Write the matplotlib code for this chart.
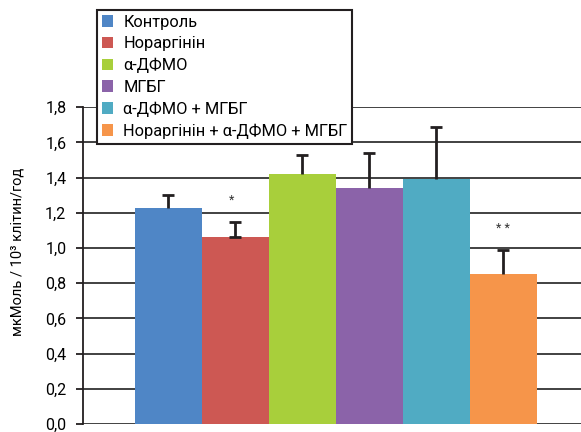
import matplotlib
matplotlib.use("Agg")
import matplotlib.pyplot as plt
from matplotlib.patches import Patch
from matplotlib import font_manager

names = {f.name for f in font_manager.fontManager.ttflist}
main_font = 'Liberation Sans Narrow' if 'Liberation Sans Narrow' in names else 'Roboto'
plt.rcParams['font.family'] = [main_font, 'DejaVu Sans']

categories = ['Контроль', 'Нораргінін', 'α-ДФМО', 'МГБГ', 'α-ДФМО + МГБГ',
              'Нораргінін + α-ДФМО + МГБГ']
values = [1.23, 1.06, 1.42, 1.34, 1.39, 0.85]
errors = [0.07, 0.09, 0.11, 0.20, 0.30, 0.14]
colors = ['#4f86c6', '#cd5853', '#a8cf3b', '#8b63a9', '#50abc3', '#f6954a']
stars = ['', '*', '', '', '', '**']
yticks = [0.0, 0.2, 0.4, 0.6, 0.8, 1.0, 1.2, 1.4, 1.6, 1.8]
ylabel = 'мкМоль / 10³ клітин/год'

fig = plt.figure(figsize=(5.81, 4.32), dpi=100)
ax = fig.add_axes([83/581, 1 - 424/432, 1 - 83/581, (424 - 107.3)/432])

x = list(range(len(values)))
ax.bar(x, values, width=1.0, color=colors, zorder=3)
for xi, v, e in zip(x, values, errors):
    _, caps, _ = ax.errorbar(xi, v, yerr=[[0], [e]], fmt='none', ecolor='#231f20',
                             elinewidth=2, capsize=4, capthick=2, zorder=4)
    if xi != 1 and len(caps) == 2:
        caps[0].set_visible(False)
for xi, v, s in zip(x, values, stars):
    if s:
        ax.text(xi - (0.06 if s == '*' else 0), v + errors[xi] + 0.12,
                ' '.join(s), ha='center', va='center', fontsize=9, color='#333333')

ax.set_xlim(-1.27, 6.16)
ax.set_ylim(0, 1.8)
ax.set_yticks(yticks)
ax.set_yticklabels([f'{t:.1f}'.replace('.', ',') for t in yticks], fontsize=11.5)
ax.set_xticks([])
ax.yaxis.grid(True, color='#333333', linewidth=1.3, zorder=0)
ax.set_axisbelow(True)
for s in ['top', 'right', 'bottom']:
    ax.spines[s].set_visible(False)
ax.spines['left'].set_linewidth(1.3)
ax.spines['left'].set_color('#231f20')
ax.tick_params(axis='y', length=5, width=1.3, color='#231f20', pad=7)
ax.set_ylabel(ylabel, fontsize=10.5)
ax.yaxis.set_label_coords(-0.117, 0.543)

handles = [Patch(facecolor=c, edgecolor='none') for c in colors]
leg = fig.legend(handles, categories, loc='upper left',
                 bbox_to_anchor=(97/581, 1 - 10/432), fontsize=11.8,
                 frameon=True, fancybox=False, framealpha=1,
                 edgecolor='#231f20', handlelength=0.7, handleheight=0.7,
                 handletextpad=0.6, labelspacing=0.4, borderpad=0.3,
                 borderaxespad=0)
leg.get_frame().set_linewidth(1.5)
leg.set_zorder(10)

fig.savefig('out.png', dpi=100)
